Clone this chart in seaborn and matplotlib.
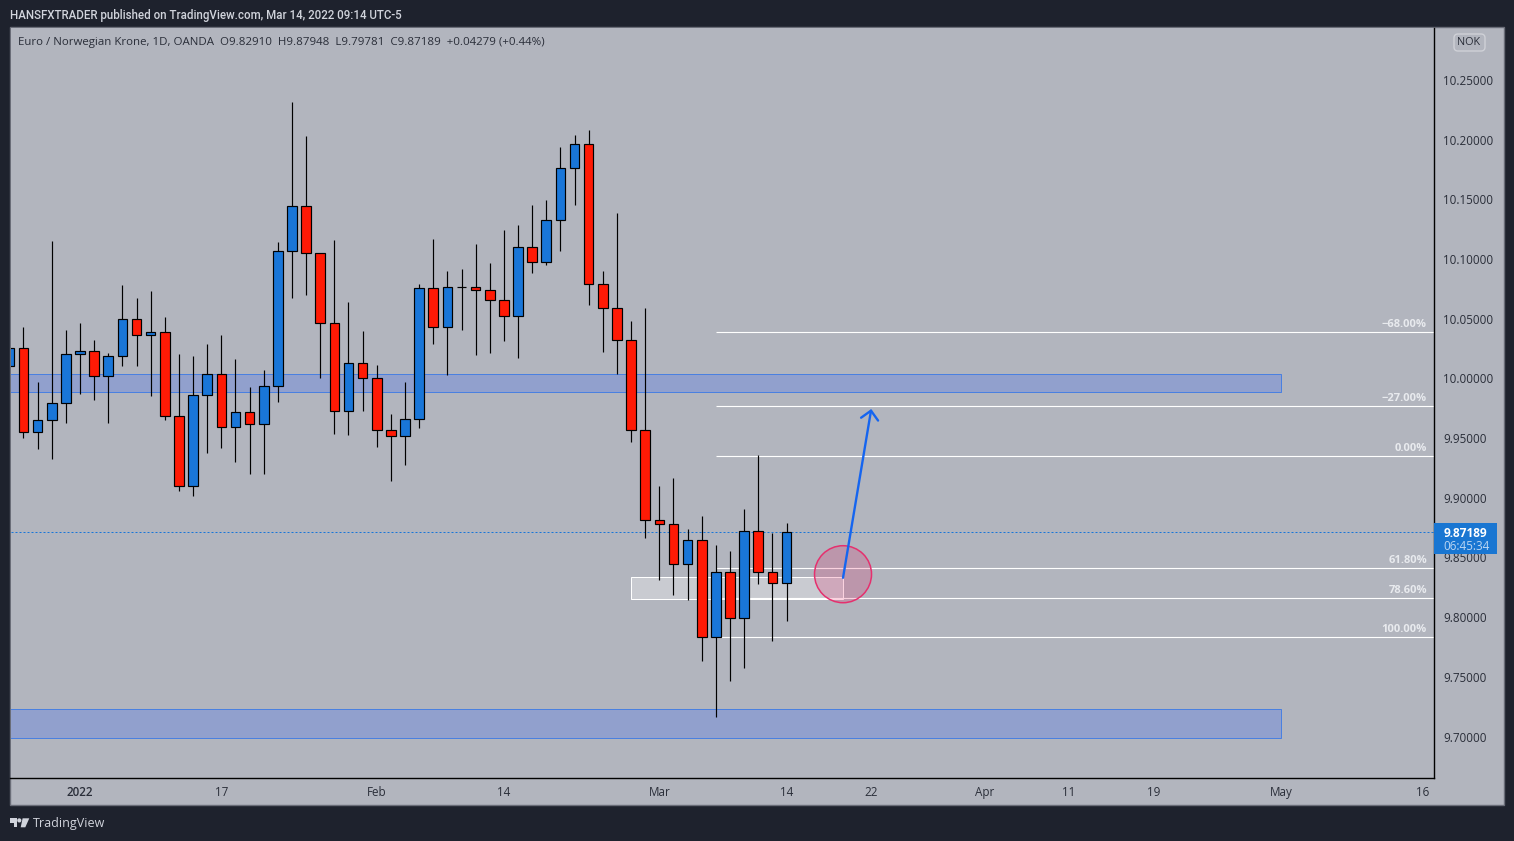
import numpy as np
import pandas as pd
import matplotlib
matplotlib.use("Agg")
import matplotlib.pyplot as plt
from matplotlib.patches import Rectangle, Ellipse, Polygon, FancyBboxPatch
from matplotlib.transforms import Affine2D
import seaborn as sns

# --- data ---
candle_index = list(range(-1, 55))
opens = [10.0110, 10.0261, 9.9562, 9.9657, 9.9800, 10.0210, 10.0236, 10.0026, 10.0194, 10.0504,
         10.0370, 10.0395, 9.9691, 9.9105, 9.9867, 10.0043, 9.9599, 9.9724, 9.9624, 9.9942,
         10.1073, 10.1450, 10.1057, 10.0470, 9.9733, 10.0135, 10.0009, 9.9574, 9.9523, 9.9666,
         10.0763, 10.0437, 10.0772, 10.0772, 10.0747, 10.0663, 10.0529, 10.1107, 10.0981, 10.1333,
         10.1769, 10.1969, 10.0796, 10.0595, 10.0327, 9.9573, 9.8819, 9.8785, 9.8450, 9.8651,
         9.7839, 9.8383, 9.7998, 9.8727, 9.8383, 9.82910]
highs = [10.0300, 10.0437, 9.9976, 10.1160, 10.0414, 10.0473, 10.0330, 10.0222, 10.0791, 10.0682,
         10.0741, 10.0523, 10.0213, 10.0196, 10.0297, 10.0372, 10.0171, 9.9937, 10.0079, 10.1152,
         10.2324, 10.2040, 10.1057, 10.1168, 10.0649, 10.0406, 10.0121, 9.9711, 9.9979, 10.0800,
         10.1177, 10.0909, 10.0925, 10.1135, 10.0976, 10.1252, 10.1294, 10.1462, 10.1503, 10.1947,
         10.2048, 10.2089, 10.0908, 10.1394, 10.0489, 10.0598, 9.9107, 9.9174, 9.8746, 9.8855,
         9.8612, 9.8562, 9.8914, 9.9366, 9.8716, 9.87948]
lows = [10.0050, 9.9512, 9.9420, 9.9336, 9.9638, 9.9881, 9.9831, 9.9638, 10.0115, 10.0115,
        9.9864, 9.9663, 9.9068, 9.9026, 9.9386, 9.9428, 9.9311, 9.9211, 9.9211, 9.9814,
        10.0685, 10.0710, 10.0015, 9.9546, 9.9537, 9.9738, 9.9437, 9.9152, 9.9286, 9.9596,
        10.0300, 10.0040, 10.0417, 10.0208, 10.0224, 10.0325, 10.0182, 10.0895, 10.0962, 10.1079,
        10.1464, 10.0626, 10.0232, 10.0045, 9.9478, 9.8674, 9.8322, 9.8196, 9.8154, 9.7643,
        9.7174, 9.7476, 9.7585, 9.8288, 9.7811, 9.79781]
closes = [10.0261, 9.9562, 9.9657, 9.9800, 10.0210, 10.0236, 10.0026, 10.0194, 10.0504, 10.0370,
          10.0395, 9.9691, 9.9105, 9.9867, 10.0043, 9.9599, 9.9724, 9.9624, 9.9942, 10.1073,
          10.1450, 10.1057, 10.0470, 9.9733, 10.0135, 10.0009, 9.9574, 9.9523, 9.9666, 10.0763,
          10.0437, 10.0772, 10.0770, 10.0747, 10.0663, 10.0529, 10.1107, 10.0981, 10.1333, 10.1769,
          10.1969, 10.0796, 10.0595, 10.0327, 9.9573, 9.8819, 9.8785, 9.8450, 9.8651, 9.7839,
          9.8383, 9.7998, 9.8727, 9.8383, 9.8291, 9.87189]

price_ticks = [9.70, 9.75, 9.80, 9.85, 9.90, 9.95, 10.00, 10.05, 10.10, 10.15, 10.20, 10.25]
date_ticks = [4, 14, 25, 34, 45, 54, 60, 68, 74, 80, 89, 99]
date_labels = ["2022", "17", "Feb", "14", "Mar", "14", "22", "Apr", "11", "19", "May", "16"]

fib_levels = [10.0397, 9.9773, 9.9362, 9.8424, 9.8165, 9.7842]
fib_labels = ["\u221268.00%", "\u221227.00%", "0.00%", "61.80%", "78.60%", "100.00%"]
fib_start = 49

upper_zone = (10.0043, 9.9898)
lower_zone = (9.7236, 9.6995)
zone_end = 89
demand_box = (43, 58, 9.8341, 9.8157)
circle_centre = (58, 9.8368)
arrow_from = (58, 9.8338)
arrow_to = (60, 9.9752)
last_price = 9.87189

# --- colours ---
DARK = "#1e222d"
PANEL = "#b2b5be"
UP = "#1976d8"
DOWN = "#ff1a05"
TXT = "#2a2e39"
LIGHT = "#d1d4dc"
FONT = "Open Sans"

sns.set_style("white")
plt.rcParams["font.family"] = [FONT, "DejaVu Sans"]

W, H = 1514, 841
fig = plt.figure(figsize=(W / 100, H / 100), dpi=100, facecolor=DARK)
pix = Affine2D().scale(1 / W, -1 / H).translate(0, 1) + fig.transFigure

# panel frame behind the axes
fig.add_artist(Rectangle((10, 27), 1494, 778, transform=pix, facecolor=PANEL,
                         edgecolor="#6a6d78", linewidth=1.0, zorder=-5))

ax = fig.add_axes([10.5 / W, 1 - 777.5 / H, 1423 / W, 750 / H])
ax.set_facecolor(PANEL)

df = pd.DataFrame({"i": candle_index, "o": opens, "h": highs, "l": lows, "c": closes})
df["bottom"] = df[["o", "c"]].min(axis=1)
df["height"] = (df["c"] - df["o"]).abs()

# wicks
wicks = pd.concat([df[["i", "h"]].rename(columns={"h": "price"}),
                   df[["i", "l"]].rename(columns={"l": "price"})])
sns.lineplot(data=wicks, x="i", y="price", units="i", estimator=None, color="black",
             linewidth=0.85, ax=ax, legend=False, zorder=2, solid_capstyle="butt")

# bodies
for mask, col in ((df["c"] >= df["o"], UP), (df["c"] < df["o"], DOWN)):
    sub = df[mask].sort_values("i")
    sns.barplot(data=sub, x="i", y="height", bottom=sub["bottom"].values, native_scale=True,
                width=0.68, color=col, saturation=1, edgecolor="black", linewidth=0.85,
                errorbar=None, orient="x", ax=ax, zorder=3, legend=False)

xlim = (-0.92, 99.79)
ylim = (9.6665, 10.2948)

# zones
for top, bot in (upper_zone, lower_zone):
    ax.add_patch(Rectangle((-5, bot), zone_end + 5, top - bot, facecolor=(0.16, 0.38, 1, 0.24),
                           edgecolor="#4a80e0", linewidth=0.72, zorder=1))

# white box
l, r, t, b = demand_box
ax.add_patch(Rectangle((l, b), r - l, t - b, facecolor=(1, 1, 1, 0.3),
                       edgecolor="white", linewidth=0.72, zorder=1.2))

# fib lines
ax.hlines(fib_levels, fib_start, xlim[1], color="white", linewidth=0.8, zorder=1.1)
for lev, lab in zip(fib_levels, fib_labels):
    ax.annotate(lab, xy=(1, lev), xycoords=("axes fraction", "data"), xytext=(-6.5, 7.5),
                textcoords="offset pixels", ha="right", va="center", fontsize=8.0,
                color="#e8eaee", fontweight="bold", zorder=1.3)

# last price line
ax.axhline(last_price, color=UP, linewidth=0.72, linestyle=(0, (2, 2)), zorder=1.4)

# circle
ax.add_patch(Ellipse(circle_centre, 57 / 14.13, 57 / 1193.6, facecolor=(0.914, 0.118, 0.388, 0.2),
                     edgecolor="#e5306e", linewidth=1.1, zorder=5))

# arrow
ax.annotate("", xy=arrow_to, xytext=arrow_from, zorder=6,
            arrowprops=dict(arrowstyle="->,head_length=0.62,head_width=0.62", color="#1565f0",
                            linewidth=1.7, shrinkA=0, shrinkB=0))

# axes
ax.set_xlim(*xlim)
ax.set_ylim(*ylim)
ax.set_xticks(date_ticks)
ax.set_xticklabels(date_labels)
ax.set_yticks(price_ticks)
ax.set_yticklabels([f"{p:.5f}" for p in price_ticks])
ax.yaxis.tick_right()
ax.tick_params(axis="y", length=0, pad=6.9, labelsize=8.4, labelcolor=TXT)
ax.tick_params(axis="x", length=0, pad=5.8, labelsize=8.4, labelcolor=TXT)
ax.get_xticklabels()[0].set_fontweight("semibold")
for lab in ax.get_yticklabels():
    lab.set_transform(lab.get_transform() + Affine2D().translate(0, 1))
ax.set_xlabel("")
ax.set_ylabel("")
for s in ("left", "top"):
    ax.spines[s].set_visible(False)
for s in ("right", "bottom"):
    ax.spines[s].set_color("black")
    ax.spines[s].set_linewidth(1.0)

# figure furniture, placed in pixels
fig.text(10 / W, 1 - 15.5 / H, "HANSFXTRADER published on TradingView.com, Mar 14, 2022 09:14 UTC-5",
         color=LIGHT, fontsize=8.3, va="center", ha="left", family=["Roboto", "DejaVu Sans"], fontweight="medium")
fig.text(18 / W, 1 - 43 / H,
         "Euro / Norwegian Krone, 1D, OANDA  O9.82910  H9.87948  L9.79781  C9.87189  +0.04279 (+0.44%)",
         color=TXT, fontsize=8.26, va="center", ha="left")

fig.add_artist(Rectangle((1434, 523.5), 63, 31, transform=pix, facecolor="#1976d2",
                         edgecolor="none", zorder=8))
fig.text(1465 / W, 1 - 533.5 / H, "9.87189", color="white", fontsize=8.6, fontweight="bold",
         ha="center", va="center", zorder=9)
fig.text(1467 / W, 1 - 547 / H, "06:45:34", color="#bbd6f2", fontsize=8.4,
         ha="center", va="center", zorder=9)

fig.add_artist(FancyBboxPatch((1456, 36), 27, 13, boxstyle="round,pad=2,rounding_size=4", transform=pix,
                              facecolor="none", edgecolor="#cfd1d7", linewidth=1.0, zorder=8))
fig.text(1469 / W, 1 - 42.5 / H, "NOK", color=TXT, fontsize=7.8, ha="center", va="center", zorder=9)

# logo
logo = "#d1d4dc"
fig.add_artist(Polygon([(10, 818.3), (16.8, 818.3), (16.8, 827.3), (14, 827.3), (14, 823), (10, 823)],
                       transform=pix, facecolor=logo, edgecolor="none", zorder=8))
fig.add_artist(Ellipse((19.3, 820.4), 4.2, 4.2, transform=pix, facecolor=logo, edgecolor="none", zorder=8))
fig.add_artist(Polygon([(22.6, 818.3), (29.3, 818.3), (25.3, 827.3), (20.7, 827.3)],
                       transform=pix, facecolor=logo, edgecolor="none", zorder=8))
fig.text(33 / W, 1 - 824 / H, "TradingView", color=logo, fontsize=9.0, ha="left", va="center", zorder=9)

fig.savefig("out.png", dpi=100, facecolor=DARK)
